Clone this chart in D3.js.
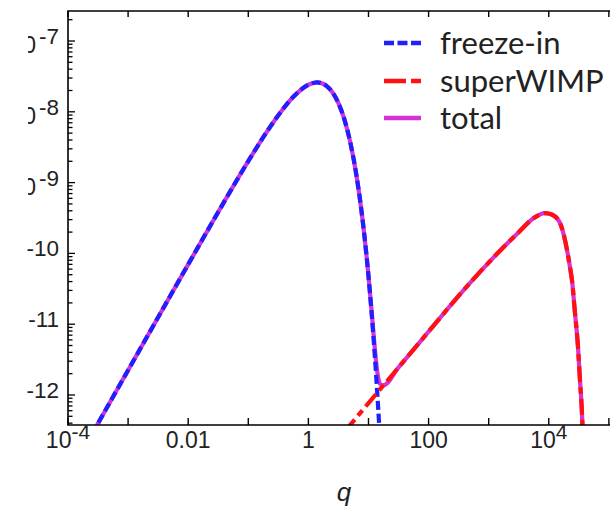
<!DOCTYPE html>
<html><head><meta charset="utf-8">
<script src="https://cdn.jsdelivr.net/npm/d3@7"></script>
<style>html,body{margin:0;padding:0;background:#fff;overflow:hidden}</style>
</head><body><svg id="c" width="610" height="509"></svg>
<script>
// ---- data (log10 values) ----
const freezeInLogQ = [-3.6,-3.0,-2.5,-2.0,-1.5,-1.0,-0.75,-0.5,-0.25,0,0.1,0.144,0.2,0.3,0.4,0.5,0.6,0.7,0.8,0.9,1.0,1.05,1.1,1.13,1.15,1.16,1.18,1.2,1.22];
const freezeInLogY = [-12.55,-11.65,-10.901,-10.155,-9.415,-8.697,-8.358,-8.048,-7.788,-7.618,-7.589,-7.585,-7.591,-7.633,-7.724,-7.878,-8.111,-8.443,-8.900,-9.513,-10.325,-10.82,-11.386,-11.76,-12.029,-12.166,-12.458,-12.76,-13.08];

const superWimpLogQ = [0.6,1.0,1.5,2.0,2.5,2.75,3.0,3.25,3.5,3.75,3.937,4.05,4.186,4.25,4.303,4.35,4.386,4.436,4.486,4.519,4.552,4.57];
const superWimpLogY = [-12.52,-12.115,-11.61,-11.105,-10.60,-10.36,-10.13,-9.91,-9.70,-9.50,-9.43,-9.45,-9.57,-9.74,-9.95,-10.18,-10.38,-10.84,-11.32,-11.79,-12.25,-12.64];

const totalLogQ = [-3.6,-3.0,-2.5,-2.0,-1.5,-1.0,-0.75,-0.5,-0.25,0,0.1,0.144,0.2,0.3,0.4,0.5,0.6,0.7,0.8,0.9,1.0,1.05,1.1,1.13,1.15,1.16,1.18,1.2,1.25,1.5,2.0,2.5,2.75,3.0,3.25,3.5,3.75,3.937,4.05,4.186,4.25,4.303,4.35,4.386,4.436,4.486,4.519,4.552,4.57];
const totalLogY = [-12.55,-11.65,-10.901,-10.155,-9.415,-8.697,-8.358,-8.048,-7.788,-7.618,-7.589,-7.585,-7.591,-7.633,-7.724,-7.878,-8.111,-8.443,-8.900,-9.513,-10.318,-10.796,-11.294,-11.556,-11.694,-11.746,-11.82,-11.854,-11.86,-11.61,-11.105,-10.60,-10.36,-10.13,-9.91,-9.70,-9.50,-9.43,-9.45,-9.57,-9.74,-9.95,-10.18,-10.38,-10.84,-11.32,-11.79,-12.25,-12.64];

const xTickValues = [1e-4,1e-3,1e-2,1e-1,1,10,100,1e3,1e4,1e5];
const xLabelValues = [1e-4,1e-2,1,1e2,1e4];
const xLabelBase = ["10","0.01","1","100","10"];
const xLabelExp = ["-4","","","","4"];
const yLabelValues = [1e-12,1e-11,1e-10,1e-9,1e-8,1e-7];
const yLabelExp = ["-12","-11","-10","-9","-8","-7"];

const seriesNames = ["freeze-in","superWIMP","total"];
const seriesColors = ["#1f1fff","#ff1111","#d633d6"];

// ---- layout ----
const svg = d3.select("#c");
const L = 68, R = 620.9, T = 11, B = 425;
const CLIPX = 28;
const x = d3.scaleLog().domain([1e-4, Math.pow(10,5.2)]).range([L, R]);
const y = d3.scaleLog().domain([Math.pow(10,-12.424), Math.pow(10,-6.576)]).range([B, T]);

const defs = svg.append("defs");
defs.append("clipPath").attr("id","plotclip").append("rect")
  .attr("x",L).attr("y",T).attr("width",R-L).attr("height",B-T);
defs.append("clipPath").attr("id","ylabclip").append("rect")
  .attr("x",CLIPX).attr("y",0).attr("width",60).attr("height",509);

const toPts = (lq, ly) => lq.map((v,i)=>[Math.pow(10,v), Math.pow(10,ly[i])]);
const line = d3.line().x(d=>x(d[0])).y(d=>y(d[1])).curve(d3.curveMonotoneX);

const g = svg.append("g").attr("clip-path","url(#plotclip)");
g.append("path").attr("d", line(toPts(totalLogQ,totalLogY)))
  .attr("fill","none").attr("stroke",seriesColors[2]).attr("stroke-width",4.2);
g.append("path").attr("d", line(toPts(freezeInLogQ,freezeInLogY)))
  .attr("fill","none").attr("stroke",seriesColors[0]).attr("stroke-width",4.2)
  .attr("stroke-dasharray","9,4");
g.append("path").attr("d", line(toPts(superWimpLogQ,superWimpLogY)))
  .attr("fill","none").attr("stroke",seriesColors[1]).attr("stroke-width",4.2)
  .attr("stroke-dasharray","16,5,7,5");

// ---- frame ----
svg.append("path").attr("d",`M${R+5},${T}H${L}V${B}H${R+5}`)
  .attr("fill","none").attr("stroke","#000").attr("stroke-width",1.6);

xTickValues.forEach(v=>{
  const px = x(v);
  svg.append("line").attr("x1",px).attr("x2",px).attr("y1",B).attr("y2",B-7)
    .attr("stroke","#000").attr("stroke-width",1.4);
  svg.append("line").attr("x1",px).attr("x2",px).attr("y1",T).attr("y2",T+6)
    .attr("stroke","#000").attr("stroke-width",1.4);
});
y.ticks().forEach(v=>{
  const py = y(v);
  const lg = Math.log10(v);
  const major = Math.abs(lg - Math.round(lg)) < 1e-6;
  svg.append("line").attr("x1",L).attr("x2",L+(major?7:4.5)).attr("y1",py).attr("y2",py)
    .attr("stroke","#000").attr("stroke-width",1.3);
});

const font = "'Liberation Sans', Arial, sans-serif";
xLabelValues.forEach((v,i)=>{
  const t = svg.append("text").attr("x",x(v)).attr("y",448)
    .attr("text-anchor","middle").attr("font-family",font).attr("fill","#222");
  t.append("tspan").attr("font-size",23).text(xLabelBase[i]);
  if (xLabelExp[i]) t.append("tspan").attr("font-size",21).attr("dy",-9).text(xLabelExp[i]);
});
// y labels: exponent drawn fully; base "10" only where part of it lies inside the visible crop
const yl = svg.append("g");
const ylBase = svg.append("g").attr("clip-path","url(#ylabclip)");
yLabelValues.forEach((v,i)=>{
  const sup = yl.append("text").attr("x",59).attr("y",y(v)+3)
    .attr("text-anchor","end").attr("font-family",font).attr("font-size",22.5)
    .attr("fill","#222").text(yLabelExp[i]);
  const w = sup.node().getComputedTextLength();
  const baseEnd = 59 - w - 3;
  if (baseEnd > CLIPX + 2) {
    ylBase.append("text").attr("x",baseEnd).attr("y",y(v)+12)
      .attr("text-anchor","end").attr("font-family",font).attr("font-size",23)
      .attr("fill","#222").text("10");
  }
});

svg.append("text").attr("x",344).attr("y",501).attr("text-anchor","middle")
  .attr("font-family",font).attr("font-style","italic").attr("font-size",26)
  .attr("fill","#222").text("q");

// ---- legend ----
const legY = [43,81,118];
const legDash = ["10,3.5","22,5,10,20","none"];
seriesNames.forEach((n,i)=>{
  svg.append("line").attr("x1",384).attr("x2",421).attr("y1",legY[i]).attr("y2",legY[i])
    .attr("stroke",seriesColors[i]).attr("stroke-width",4.5)
    .attr("stroke-dasharray",legDash[i]);
  svg.append("text").attr("x",440).attr("y",legY[i]+11)
    .attr("font-family","Lato, 'Open Sans', sans-serif").attr("font-size",31)
    .attr("fill","#222").text(n);
});
</script></body></html>
